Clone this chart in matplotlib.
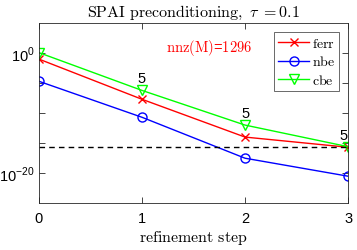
import numpy as np
import matplotlib
matplotlib.use('Agg')
import matplotlib.pyplot as plt
from matplotlib.ticker import FixedLocator

plt.rcParams['mathtext.fontset'] = 'custom'
plt.rcParams['mathtext.rm'] = 'Liberation Sans'
plt.rcParams['font.family'] = 'Liberation Sans'

# data
steps = [0, 1, 2, 3]
ferr = [1e-1, 2e-8, 1e-14, 2e-16]
nbe = [2e-5, 2e-11, 3e-18, 3e-21]
cbe = [1.2e0, 6e-7, 1e-12, 2.5e-16]
iters = ['5', '5', '5']
eps = 2.2e-16

fig = plt.figure(figsize=(3.57, 2.51), dpi=100)
ax = fig.add_axes([0.109, 0.187, 0.866, 0.717])

ax.plot(steps, ferr, color='#ff0000', marker='x', ms=6, mew=1.0, lw=1.0, label=r'$\mathrm{ferr}$')
ax.plot(steps, nbe, color='#0000ff', marker='o', ms=6.5, mfc='none', mew=1.0, lw=1.0, label=r'$\mathrm{nbe}$')
ax.plot(steps, cbe, color='#00ff00', marker='v', ms=7, mfc='none', mew=1.0, lw=1.0, label=r'$\mathrm{cbe}$')
ax.axhline(eps, color='k', ls='--', lw=1.0, dashes=(4, 3))

dx = [0, 0, -5]
for i, s in enumerate(iters):
    ax.annotate(s, (steps[i + 1], cbe[i + 1]), xytext=(dx[i], 12), textcoords='offset pixels',
                ha='center', va='center', fontsize=10.5)

ax.text(1.65, 1e1, r'$\mathrm{nnz(M)}$=$1296$', color='#ff0000', fontsize=10.5,
        ha='center', va='center', math_fontfamily='cm')

ax.set_yscale('log')
ax.set_xlim(0, 3)
ax.set_ylim(1e-25, 1e5)
ax.set_xticks(steps)
ax.yaxis.set_major_locator(FixedLocator([1e-20, 1e-15, 1e-10, 1e-5, 1e0]))
ax.yaxis.set_minor_locator(FixedLocator([]))
ax.set_yticklabels([r'$10^{-20}$', '', '', '', r'$10^{0}$'])
ax.tick_params(direction='in', top=True, right=True, labelsize=10.5, length=4, width=0.6,
               colors='#262626', labelcolor='k')
ax.tick_params(axis='x', pad=6)
ax.tick_params(axis='y', pad=3)
for sp in ax.spines.values():
    sp.set_linewidth(0.6)
    sp.set_color('#262626')

ax.set_title(r'$\mathrm{SPAI\ preconditioning,}\ \tau\ \mathrm{=0.1}$', fontsize=11.5,
             math_fontfamily='cm', pad=5)
ax.set_xlabel(r'$\mathrm{refinement\ step}$', fontsize=11.5, math_fontfamily='cm', labelpad=2)

leg = ax.legend(loc='upper right', fontsize=10, frameon=True, fancybox=False,
                edgecolor='#262626', handlelength=2.2, borderpad=0.3, labelspacing=0.3,
                handletextpad=0.2, borderaxespad=0.65)
leg.get_frame().set_linewidth(0.6)
for t in leg.get_texts():
    t.set_math_fontfamily('cm')

fig.savefig('out.png', dpi=100)
